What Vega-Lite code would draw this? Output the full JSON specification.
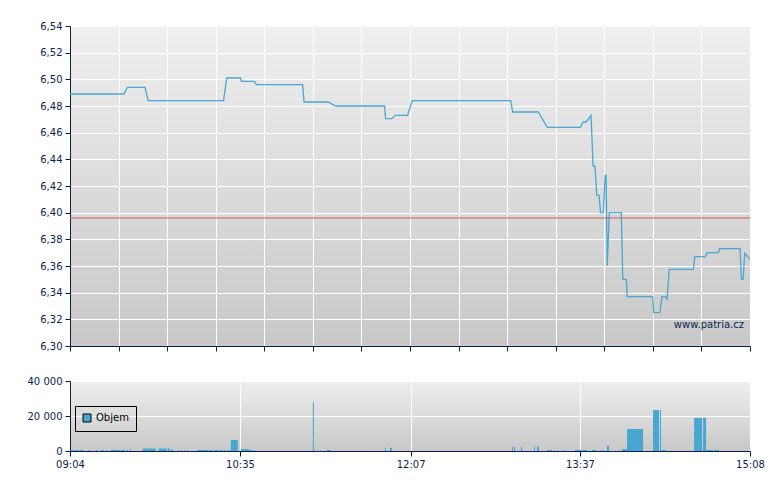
{
  "$schema": "https://vega.github.io/schema/vega-lite/v6.json",
  "background": "#ffffff",
  "padding": {"left": 27, "top": 21, "right": 15, "bottom": 5},
  "spacing": 24,
  "config": {
    "locale": {"number": {"decimal": ",", "thousands": " ", "grouping": [3], "currency": ["", ""]}},
    "view": {"stroke": null, "fill": {"gradient": "linear", "x1": 0, "y1": 0, "x2": 0, "y2": 1, "stops": [{"offset": 0, "color": "#efefef"}, {"offset": 1, "color": "#c8c8c8"}]}},
    "axis": {"domainColor": "#0a1f4f", "tickColor": "#0a1f4f", "labelColor": "#0a1f4f", "gridColor": "#ffffff", "gridWidth": 1, "gridOpacity": 1, "labelFont": "DejaVu Sans", "labelFontSize": 10, "tickSize": 5, "labelPadding": 3, "title": null, "domainWidth": 1, "labelOverlap": false, "labelFlush": false},
    "legend": {"labelFont": "DejaVu Sans", "labelFontSize": 10, "labelColor": "#000000"}
  },
  "datasets": {
    "price": [
      {"time": "2024-01-02T09:04:00", "price": 6.489},
      {"time": "2024-01-02T09:32:54", "price": 6.489},
      {"time": "2024-01-02T09:34:42", "price": 6.494},
      {"time": "2024-01-02T09:44:12", "price": 6.494},
      {"time": "2024-01-02T09:45:48", "price": 6.484},
      {"time": "2024-01-02T10:26:12", "price": 6.484},
      {"time": "2024-01-02T10:27:54", "price": 6.501},
      {"time": "2024-01-02T10:35:18", "price": 6.501},
      {"time": "2024-01-02T10:35:48", "price": 6.4985},
      {"time": "2024-01-02T10:42:36", "price": 6.4985},
      {"time": "2024-01-02T10:43:48", "price": 6.496},
      {"time": "2024-01-02T11:08:30", "price": 6.496},
      {"time": "2024-01-02T11:09:18", "price": 6.483},
      {"time": "2024-01-02T11:22:12", "price": 6.483},
      {"time": "2024-01-02T11:26:12", "price": 6.48},
      {"time": "2024-01-02T11:52:24", "price": 6.48},
      {"time": "2024-01-02T11:52:54", "price": 6.4705},
      {"time": "2024-01-02T11:56:18", "price": 6.4705},
      {"time": "2024-01-02T11:58:06", "price": 6.473},
      {"time": "2024-01-02T12:04:42", "price": 6.473},
      {"time": "2024-01-02T12:07:12", "price": 6.484},
      {"time": "2024-01-02T12:59:54", "price": 6.484},
      {"time": "2024-01-02T13:01:00", "price": 6.4755},
      {"time": "2024-01-02T13:14:42", "price": 6.4755},
      {"time": "2024-01-02T13:19:30", "price": 6.464},
      {"time": "2024-01-02T13:37:12", "price": 6.464},
      {"time": "2024-01-02T13:38:36", "price": 6.468},
      {"time": "2024-01-02T13:40:12", "price": 6.468},
      {"time": "2024-01-02T13:42:54", "price": 6.473},
      {"time": "2024-01-02T13:44:00", "price": 6.435},
      {"time": "2024-01-02T13:45:00", "price": 6.435},
      {"time": "2024-01-02T13:46:00", "price": 6.413},
      {"time": "2024-01-02T13:47:12", "price": 6.413},
      {"time": "2024-01-02T13:48:00", "price": 6.4},
      {"time": "2024-01-02T13:49:30", "price": 6.4},
      {"time": "2024-01-02T13:50:30", "price": 6.428},
      {"time": "2024-01-02T13:51:00", "price": 6.428},
      {"time": "2024-01-02T13:51:36", "price": 6.36},
      {"time": "2024-01-02T13:52:42", "price": 6.4},
      {"time": "2024-01-02T13:59:06", "price": 6.4},
      {"time": "2024-01-02T13:59:54", "price": 6.35},
      {"time": "2024-01-02T14:01:48", "price": 6.35},
      {"time": "2024-01-02T14:02:18", "price": 6.337},
      {"time": "2024-01-02T14:15:54", "price": 6.337},
      {"time": "2024-01-02T14:16:30", "price": 6.325},
      {"time": "2024-01-02T14:19:48", "price": 6.325},
      {"time": "2024-01-02T14:20:54", "price": 6.337},
      {"time": "2024-01-02T14:22:42", "price": 6.337},
      {"time": "2024-01-02T14:23:36", "price": 6.335},
      {"time": "2024-01-02T14:24:48", "price": 6.3575},
      {"time": "2024-01-02T14:37:42", "price": 6.3575},
      {"time": "2024-01-02T14:38:24", "price": 6.367},
      {"time": "2024-01-02T14:44:06", "price": 6.367},
      {"time": "2024-01-02T14:45:00", "price": 6.37},
      {"time": "2024-01-02T14:51:06", "price": 6.37},
      {"time": "2024-01-02T14:51:48", "price": 6.373},
      {"time": "2024-01-02T15:02:42", "price": 6.373},
      {"time": "2024-01-02T15:03:24", "price": 6.35},
      {"time": "2024-01-02T15:04:18", "price": 6.35},
      {"time": "2024-01-02T15:05:12", "price": 6.3695},
      {"time": "2024-01-02T15:08:00", "price": 6.365}
    ],
    "volume": [
      {"start": "2024-01-02T09:04:22", "end": "2024-01-02T09:08:40", "volume": 500},
      {"start": "2024-01-02T09:09:12", "end": "2024-01-02T09:11:20", "volume": 500},
      {"start": "2024-01-02T09:13:29", "end": "2024-01-02T09:15:05", "volume": 400},
      {"start": "2024-01-02T09:17:46", "end": "2024-01-02T09:18:50", "volume": 500},
      {"start": "2024-01-02T09:20:26", "end": "2024-01-02T09:22:03", "volume": 500},
      {"start": "2024-01-02T09:23:07", "end": "2024-01-02T09:24:11", "volume": 400},
      {"start": "2024-01-02T09:25:48", "end": "2024-01-02T09:30:37", "volume": 600},
      {"start": "2024-01-02T09:31:10", "end": "2024-01-02T09:33:18", "volume": 600},
      {"start": "2024-01-02T09:34:22", "end": "2024-01-02T09:34:54", "volume": 800},
      {"start": "2024-01-02T09:35:59", "end": "2024-01-02T09:36:31", "volume": 1200},
      {"start": "2024-01-02T09:42:56", "end": "2024-01-02T09:45:37", "volume": 1400},
      {"start": "2024-01-02T09:45:37", "end": "2024-01-02T09:49:54", "volume": 1400},
      {"start": "2024-01-02T09:51:31", "end": "2024-01-02T09:55:48", "volume": 1400},
      {"start": "2024-01-02T09:56:20", "end": "2024-01-02T09:57:24", "volume": 1400},
      {"start": "2024-01-02T09:57:56", "end": "2024-01-02T09:59:00", "volume": 1000},
      {"start": "2024-01-02T10:01:41", "end": "2024-01-02T10:02:13", "volume": 500},
      {"start": "2024-01-02T10:03:17", "end": "2024-01-02T10:03:50", "volume": 500},
      {"start": "2024-01-02T10:04:54", "end": "2024-01-02T10:05:26", "volume": 500},
      {"start": "2024-01-02T10:06:30", "end": "2024-01-02T10:07:02", "volume": 500},
      {"start": "2024-01-02T10:12:24", "end": "2024-01-02T10:17:45", "volume": 600},
      {"start": "2024-01-02T10:18:17", "end": "2024-01-02T10:20:26", "volume": 500},
      {"start": "2024-01-02T10:20:58", "end": "2024-01-02T10:23:39", "volume": 500},
      {"start": "2024-01-02T10:24:11", "end": "2024-01-02T10:25:47", "volume": 500},
      {"start": "2024-01-02T10:26:19", "end": "2024-01-02T10:27:24", "volume": 500},
      {"start": "2024-01-02T10:28:28", "end": "2024-01-02T10:29:32", "volume": 500},
      {"start": "2024-01-02T10:30:04", "end": "2024-01-02T10:33:49", "volume": 6300},
      {"start": "2024-01-02T10:35:26", "end": "2024-01-02T10:39:43", "volume": 1100},
      {"start": "2024-01-02T10:39:43", "end": "2024-01-02T10:41:19", "volume": 600},
      {"start": "2024-01-02T10:41:52", "end": "2024-01-02T10:42:56", "volume": 600},
      {"start": "2024-01-02T11:13:59", "end": "2024-01-02T11:14:32", "volume": 28200},
      {"start": "2024-01-02T11:14:32", "end": "2024-01-02T11:15:04", "volume": 500},
      {"start": "2024-01-02T11:17:44", "end": "2024-01-02T11:18:17", "volume": 500},
      {"start": "2024-01-02T11:21:29", "end": "2024-01-02T11:23:38", "volume": 600},
      {"start": "2024-01-02T11:52:34", "end": "2024-01-02T11:53:06", "volume": 1900},
      {"start": "2024-01-02T11:55:14", "end": "2024-01-02T11:56:19", "volume": 1900},
      {"start": "2024-01-02T13:00:35", "end": "2024-01-02T13:01:07", "volume": 2500},
      {"start": "2024-01-02T13:01:39", "end": "2024-01-02T13:02:11", "volume": 2500},
      {"start": "2024-01-02T13:05:24", "end": "2024-01-02T13:05:56", "volume": 2500},
      {"start": "2024-01-02T13:12:22", "end": "2024-01-02T13:12:54", "volume": 2500},
      {"start": "2024-01-02T13:13:58", "end": "2024-01-02T13:15:02", "volume": 2500},
      {"start": "2024-01-02T13:19:20", "end": "2024-01-02T13:22:00", "volume": 500},
      {"start": "2024-01-02T13:23:04", "end": "2024-01-02T13:23:37", "volume": 500},
      {"start": "2024-01-02T13:24:41", "end": "2024-01-02T13:25:13", "volume": 500},
      {"start": "2024-01-02T13:28:26", "end": "2024-01-02T13:28:58", "volume": 500},
      {"start": "2024-01-02T13:34:19", "end": "2024-01-02T13:38:04", "volume": 600},
      {"start": "2024-01-02T13:38:37", "end": "2024-01-02T13:40:45", "volume": 600},
      {"start": "2024-01-02T13:43:26", "end": "2024-01-02T13:45:34", "volume": 600},
      {"start": "2024-01-02T13:47:43", "end": "2024-01-02T13:48:15", "volume": 500},
      {"start": "2024-01-02T13:48:47", "end": "2024-01-02T13:49:52", "volume": 500},
      {"start": "2024-01-02T13:51:28", "end": "2024-01-02T13:52:32", "volume": 2900},
      {"start": "2024-01-02T13:59:30", "end": "2024-01-02T14:02:11", "volume": 1100},
      {"start": "2024-01-02T14:02:11", "end": "2024-01-02T14:10:45", "volume": 12600},
      {"start": "2024-01-02T14:16:06", "end": "2024-01-02T14:19:19", "volume": 23400},
      {"start": "2024-01-02T14:19:51", "end": "2024-01-02T14:20:23", "volume": 23400},
      {"start": "2024-01-02T14:20:23", "end": "2024-01-02T14:23:04", "volume": 500},
      {"start": "2024-01-02T14:38:04", "end": "2024-01-02T14:42:21", "volume": 18900},
      {"start": "2024-01-02T14:42:53", "end": "2024-01-02T14:44:29", "volume": 18900},
      {"start": "2024-01-02T14:44:29", "end": "2024-01-02T14:48:14", "volume": 600},
      {"start": "2024-01-02T14:48:46", "end": "2024-01-02T14:51:27", "volume": 600}
    ]
  },
  "vconcat": [
    {
      "width": 680,
      "height": 320,
      "layer": [
        {
          "data": {"name": "price"},
          "mark": {"type": "line", "color": "#4aa6d2", "strokeWidth": 1.3, "interpolate": "linear"},
          "encoding": {
            "x": {
              "field": "time", "type": "temporal",
              "scale": {"domain": [{"year": 2024, "month": 1, "date": 2, "hours": 9, "minutes": 4}, {"year": 2024, "month": 1, "date": 2, "hours": 15, "minutes": 8}]},
              "axis": {
                "labels": false, "grid": true, "tickCount": 30,
                "values": [
                  {"year": 2024, "month": 1, "date": 2, "hours": 9, "minutes": 4},
                  {"year": 2024, "month": 1, "date": 2, "hours": 9, "minutes": 30},
                  {"year": 2024, "month": 1, "date": 2, "hours": 9, "minutes": 56},
                  {"year": 2024, "month": 1, "date": 2, "hours": 10, "minutes": 22},
                  {"year": 2024, "month": 1, "date": 2, "hours": 10, "minutes": 48},
                  {"year": 2024, "month": 1, "date": 2, "hours": 11, "minutes": 14},
                  {"year": 2024, "month": 1, "date": 2, "hours": 11, "minutes": 40},
                  {"year": 2024, "month": 1, "date": 2, "hours": 12, "minutes": 6},
                  {"year": 2024, "month": 1, "date": 2, "hours": 12, "minutes": 32},
                  {"year": 2024, "month": 1, "date": 2, "hours": 12, "minutes": 58},
                  {"year": 2024, "month": 1, "date": 2, "hours": 13, "minutes": 24},
                  {"year": 2024, "month": 1, "date": 2, "hours": 13, "minutes": 50},
                  {"year": 2024, "month": 1, "date": 2, "hours": 14, "minutes": 16},
                  {"year": 2024, "month": 1, "date": 2, "hours": 14, "minutes": 42},
                  {"year": 2024, "month": 1, "date": 2, "hours": 15, "minutes": 8}
                ]
              }
            },
            "y": {
              "field": "price", "type": "quantitative",
              "scale": {"domain": [6.3, 6.54], "zero": false, "nice": false},
              "axis": {"values": [6.3, 6.32, 6.34, 6.36, 6.38, 6.4, 6.42, 6.44, 6.46, 6.48, 6.5, 6.52, 6.54], "tickCount": 30, "format": ".2f", "grid": true, "labelOverlap": false}
            }
          }
        },
        {
          "data": {"values": [{"prev_close": 6.396}]},
          "mark": {"type": "rule", "color": "#cc5a5a", "strokeWidth": 1},
          "encoding": {"y": {"field": "prev_close", "type": "quantitative"}}
        },
        {
          "data": {"values": [{"time": "2024-01-02T15:08:00", "price": 6.316, "label": "www.patria.cz"}]},
          "mark": {"type": "text", "align": "right", "baseline": "middle", "dx": -6, "font": "DejaVu Sans", "fontSize": 10, "color": "#0a1f4f"},
          "encoding": {
            "x": {"field": "time", "type": "temporal"},
            "y": {"field": "price", "type": "quantitative"},
            "text": {"field": "label"}
          }
        }
      ]
    },
    {
      "width": 680,
      "height": 70,
      "data": {"name": "volume"},
      "mark": {"type": "rect"},
      "encoding": {
        "x": {
          "field": "start", "type": "temporal",
          "scale": {"domain": [{"year": 2024, "month": 1, "date": 2, "hours": 9, "minutes": 4}, {"year": 2024, "month": 1, "date": 2, "hours": 15, "minutes": 8}]},
          "axis": {
            "grid": true, "tickCount": 30, "labelFlush": false,
            "values": [
              {"year": 2024, "month": 1, "date": 2, "hours": 9, "minutes": 4},
              {"year": 2024, "month": 1, "date": 2, "hours": 10, "minutes": 35},
              {"year": 2024, "month": 1, "date": 2, "hours": 12, "minutes": 6, "seconds": 20},
              {"year": 2024, "month": 1, "date": 2, "hours": 13, "minutes": 37},
              {"year": 2024, "month": 1, "date": 2, "hours": 15, "minutes": 8}
            ],
            "labelExpr": "timeFormat(toNumber(datum.value) + 40000, '%H:%M')"
          }
        },
        "x2": {"field": "end"},
        "y": {
          "field": "volume", "type": "quantitative",
          "scale": {"domain": [0, 40000], "nice": false},
          "axis": {"values": [0, 20000, 40000], "tickCount": 10, "format": ",d", "grid": true}
        },
        "y2": {"datum": 0},
        "color": {
          "datum": "Objem",
          "scale": {"range": ["#48a7d0"]},
          "legend": {
            "orient": "none", "legendX": 5, "legendY": 380, "title": null,
            "strokeColor": "#000000", "padding": 7,
            "symbolType": "square", "symbolSize": 64, "symbolStrokeColor": "#000000", "symbolStrokeWidth": 1, "symbolOpacity": 1
          }
        }
      }
    }
  ]
}
